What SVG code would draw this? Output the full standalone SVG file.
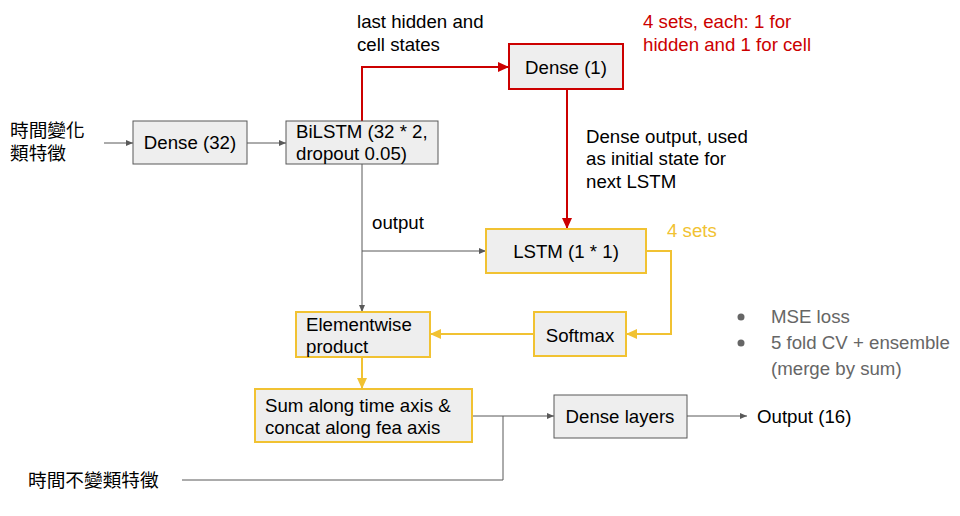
<svg xmlns="http://www.w3.org/2000/svg" width="960" height="516" viewBox="0 0 960 516">
<style>
text{font-family:"Liberation Sans","Noto Sans CJK TC",Arial,sans-serif;font-size:18.67px;fill:#000}
.box{fill:#eeeeee;stroke:#595959;stroke-width:1}
.rbox{fill:#eeeeee;stroke:#cc0000;stroke-width:2}
.ybox{fill:#eeeeee;stroke:#f1c232;stroke-width:2}
.g{fill:none;stroke:#595959;stroke-width:1}
.r{fill:none;stroke:#cc0000;stroke-width:2}
.y{fill:none;stroke:#f1c232;stroke-width:2}
.red{fill:#cc0000}
.yel{fill:#f1c232}
.gray{fill:#666666}
.c{text-anchor:middle}
</style>
<defs>
<marker id="ag" markerWidth="8" markerHeight="6" refX="7" refY="3" orient="auto" markerUnits="userSpaceOnUse"><path d="M0,0 L7,3 L0,6 z" fill="#595959"/></marker>
<marker id="ar" markerWidth="12" markerHeight="10" refX="11" refY="5" orient="auto" markerUnits="userSpaceOnUse"><path d="M0,0 L11,5 L0,10 z" fill="#cc0000"/></marker>
<marker id="ay" markerWidth="12" markerHeight="10" refX="11" refY="5" orient="auto" markerUnits="userSpaceOnUse"><path d="M0,0 L11,5 L0,10 z" fill="#f1c232"/></marker>
</defs>
<g id="connectors">
<path class="g" d="M104,143 H133" marker-end="url(#ag)"/>
<path class="g" d="M247,143 H286" marker-end="url(#ag)"/>
<path class="r" d="M362,121 V67 H509" marker-end="url(#ar)"/>
<path class="r" d="M567,89 V229" marker-end="url(#ar)"/>
<path class="g" d="M362,164 V312" marker-end="url(#ag)"/>
<path class="g" d="M362,251 H486" marker-end="url(#ag)"/>
<path class="y" d="M646,251 H671 V334 H626" marker-end="url(#ay)"/>
<path class="y" d="M534,334 H430" marker-end="url(#ay)"/>
<path class="y" d="M362,357 V389" marker-end="url(#ay)"/>
<path class="g" d="M472,416 H554" marker-end="url(#ag)"/>
<path class="g" d="M182,480 H503 V416"/>
<path class="g" d="M687,416 H747" marker-end="url(#ag)"/>
</g>
<g id="input-timevarying">
<text x="10" y="137">時間變化</text>
<text x="10" y="160">類特徵</text>
</g>
<g id="dense32">
<rect class="box" x="133" y="121" width="114" height="43"/>
<text class="c" x="190" y="149">Dense (32)</text>
</g>
<g id="bilstm">
<rect class="box" x="286" y="121" width="152" height="43"/>
<text x="296" y="138">BiLSTM (32 * 2,</text>
<text x="296" y="160">dropout 0.05)</text>
</g>
<g id="label-last-hidden">
<text x="357" y="28">last hidden and</text>
<text x="357" y="51">cell states</text>
</g>
<g id="dense1">
<rect class="rbox" x="509" y="44" width="114" height="45"/>
<text class="c" x="566" y="74">Dense (1)</text>
</g>
<g id="label-4sets-red">
<text class="red" x="643" y="28">4 sets, each: 1 for</text>
<text class="red" x="643" y="51">hidden and 1 for cell</text>
</g>
<g id="label-dense-output">
<text x="586" y="143">Dense output, used</text>
<text x="586" y="165">as initial state for</text>
<text x="586" y="188">next LSTM</text>
</g>
<g id="label-output">
<text x="372" y="229">output</text>
</g>
<g id="lstm">
<rect class="ybox" x="486" y="229" width="160" height="44"/>
<text class="c" x="566" y="258">LSTM (1 * 1)</text>
</g>
<g id="label-4sets-yellow">
<text class="yel" x="667" y="237">4 sets</text>
</g>
<g id="softmax">
<rect class="ybox" x="534" y="312" width="92" height="44"/>
<text class="c" x="580" y="342">Softmax</text>
</g>
<g id="elementwise">
<rect class="ybox" x="296" y="312" width="134" height="45"/>
<text x="306" y="331">Elementwise</text>
<text x="306" y="353">product</text>
</g>
<g id="sum">
<rect class="ybox" x="255" y="389" width="217" height="53"/>
<text x="265" y="412">Sum along time axis &amp;</text>
<text x="265" y="434">concat along fea axis</text>
</g>
<g id="input-static">
<text x="28" y="487">時間不變類特徵</text>
</g>
<g id="dense-layers">
<rect class="box" x="554" y="395" width="133" height="43"/>
<text class="c" x="620" y="423">Dense layers</text>
</g>
<g id="output16">
<text x="757" y="423">Output (16)</text>
</g>
<g id="notes">
<circle cx="741" cy="317" r="3.5" fill="#666666"/>
<text class="gray" x="771" y="323">MSE loss</text>
<circle cx="741" cy="343" r="3.5" fill="#666666"/>
<text class="gray" x="771" y="349">5 fold CV + ensemble</text>
<text class="gray" x="771" y="375">(merge by sum)</text>
</g>
</svg>
